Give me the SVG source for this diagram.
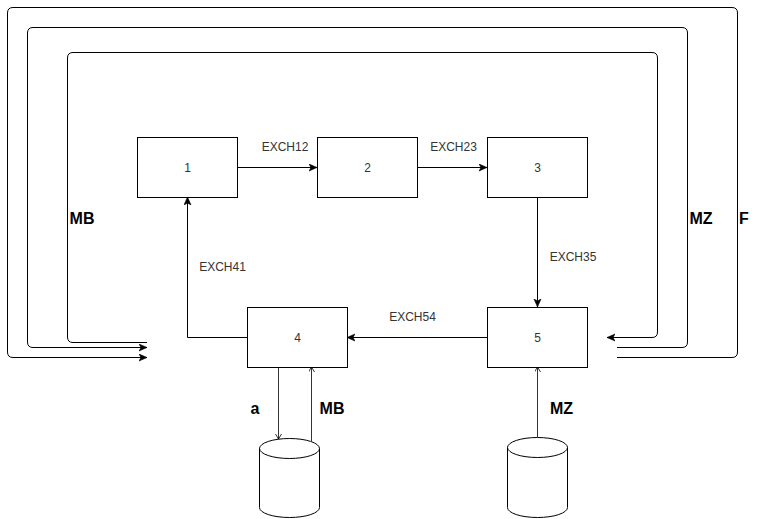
<svg xmlns="http://www.w3.org/2000/svg" width="769" height="519" viewBox="0 0 769 519">
  <style>
    .box { fill: #ffffff; stroke: #000000; stroke-width: 1; }
    .line { fill: none; stroke: #000000; stroke-width: 1; }
    .thin { fill: none; stroke: #000000; stroke-width: 0.8; }
    .num { font-family: "Liberation Sans", Arial, sans-serif; font-size: 12px; fill: #333333; text-anchor: middle; }
    .lbl { font-family: "Liberation Sans", Arial, sans-serif; font-size: 12px; fill: #333333; text-anchor: middle; }
    .big { font-family: "Liberation Sans", Arial, sans-serif; font-size: 16px; font-weight: bold; fill: #000000; text-anchor: middle; }
  </style>
  <defs>
    <marker id="block" markerUnits="userSpaceOnUse" markerWidth="10" markerHeight="10" refX="8" refY="4" orient="auto">
      <path d="M0,0.5 L8,4 L0,7.5 L2,4 Z" fill="#000000" stroke="#000000" stroke-width="0.6"/>
    </marker>
    <marker id="open" markerUnits="userSpaceOnUse" markerWidth="8" markerHeight="8" refX="5" refY="3" orient="auto">
      <path d="M0,0 L5,3 L0,6" fill="none" stroke="#000000" stroke-width="0.8"/>
    </marker>
  </defs>

  <!-- feedback loops and exchange connectors -->
  <g id="connectors">
    <!-- F (outer loop) -->
    <path class="line" marker-end="url(#block)" d="M617,357.5 H732 Q737.5,357.5 737.5,352 V13 Q737.5,7.5 732,7.5 H13 Q7.5,7.5 7.5,13 V352 Q7.5,357.5 13,357.5 H147"/>
    <!-- MZ (middle loop) -->
    <path class="line" marker-end="url(#block)" d="M617,347.5 H682 Q687.5,347.5 687.5,342 V33 Q687.5,27.5 682,27.5 H33 Q27.5,27.5 27.5,33 V342 Q27.5,347.5 33,347.5 H147"/>
    <!-- MB (inner loop) -->
    <path class="line" marker-end="url(#block)" d="M147,342.5 H73 Q67.5,342.5 67.5,337 V58 Q67.5,52.5 73,52.5 H652 Q657.5,52.5 657.5,58 V332 Q657.5,337.5 652,337.5 H607"/>

    <path class="line" marker-end="url(#block)" d="M237,167.5 H317"/>
    <path class="line" marker-end="url(#block)" d="M417,167.5 H487"/>
    <path class="line" marker-end="url(#block)" d="M537.5,197 V307"/>
    <path class="line" marker-end="url(#block)" d="M487,337.5 H347"/>
    <path class="line" marker-end="url(#block)" d="M247,337.5 H187.5 V197"/>

    <!-- storage links -->
    <path class="thin" marker-end="url(#open)" d="M278.5,367 V439"/>
    <path class="thin" marker-end="url(#open)" d="M311.5,441 V367"/>
    <path class="thin" marker-end="url(#open)" d="M537.5,437 V367"/>

    <text class="lbl" x="285" y="151">EXCH12</text>
    <text class="lbl" x="453.5" y="151">EXCH23</text>
    <text class="lbl" x="573" y="261">EXCH35</text>
    <text class="lbl" x="222.5" y="271">EXCH41</text>
    <text class="lbl" x="412.5" y="321">EXCH54</text>

    <text class="big" x="82" y="224">MB</text>
    <text class="big" x="701" y="224">MZ</text>
    <text class="big" x="744" y="224">F</text>
    <text class="big" x="255" y="414">a</text>
    <text class="big" x="332" y="414">MB</text>
    <text class="big" x="561.5" y="414">MZ</text>
  </g>

  <g id="node1">
    <rect class="box" x="137.5" y="137.5" width="100" height="60"/>
    <text class="num" x="187.5" y="171.5">1</text>
  </g>
  <g id="node2">
    <rect class="box" x="317.5" y="137.5" width="100" height="60"/>
    <text class="num" x="367.5" y="171.5">2</text>
  </g>
  <g id="node3">
    <rect class="box" x="487.5" y="137.5" width="100" height="60"/>
    <text class="num" x="537.5" y="171.5">3</text>
  </g>
  <g id="node4">
    <rect class="box" x="247.5" y="307.5" width="100" height="60"/>
    <text class="num" x="297.5" y="341.5">4</text>
  </g>
  <g id="node5">
    <rect class="box" x="487.5" y="307.5" width="100" height="60"/>
    <text class="num" x="537.5" y="341.5">5</text>
  </g>

  <g id="storeMB">
    <path class="box" stroke-width="1.3" d="M259.5,448.5 A30,10 0 0 1 319.5,448.5 V507.5 A30,10 0 0 1 259.5,507.5 Z"/>
    <path class="line" stroke-width="1.3" d="M259.5,448.5 A30,10 0 0 0 319.5,448.5"/>
  </g>
  <g id="storeMZ">
    <path class="box" stroke-width="1.3" d="M507.5,447.5 A30,10 0 0 1 567.5,447.5 V507.5 A30,10 0 0 1 507.5,507.5 Z"/>
    <path class="line" stroke-width="1.3" d="M507.5,447.5 A30,10 0 0 0 567.5,447.5"/>
  </g>
</svg>
